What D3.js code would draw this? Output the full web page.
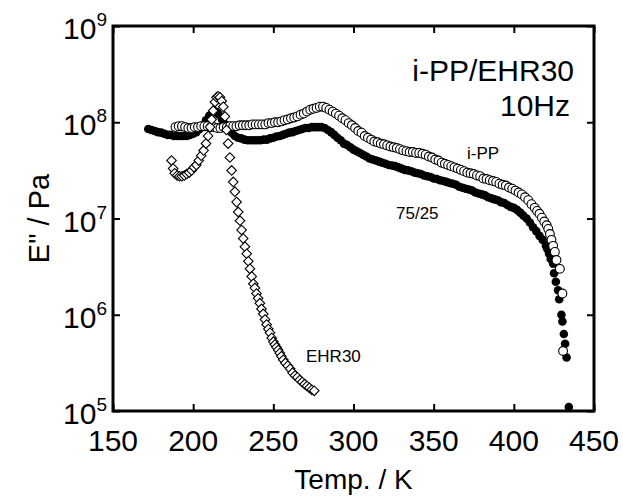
<!DOCTYPE html>
<html>
<head>
<meta charset="utf-8">
<script src="https://cdn.jsdelivr.net/npm/d3@7"></script>
<style>
  body { margin: 0; background: #fff; }
  text { font-family: "Liberation Sans", Arial, Helvetica, sans-serif; fill: #000; }
</style>
</head>
<body>
<svg id="chart" width="623" height="497"></svg>
<script>
// E'' vs temperature, 10 Hz

// [Temp / K, E'' / Pa]
const blend7525 = [
  [172, 8.5e7], [174, 8.3e7], [176, 8.1e7], [178, 7.9e7], [180, 7.8e7], [182, 7.6e7],
  [184, 7.4e7], [186, 7.4e7], [188, 7.2e7], [190, 7.2e7], [192, 7.2e7], [194, 7.2e7],
  [196, 7.2e7], [198, 7.4e7], [200, 7.6e7], [202, 7.9e7], [204, 8.5e7], [206, 9.3e7],
  [208, 1.05e8], [210, 1.17e8], [212, 1.26e8], [213, 1.29e8], [214, 1.29e8], [215, 1.26e8],
  [216, 1.2e8], [218, 1.07e8], [220, 9.5e7], [222, 8.5e7], [224, 7.8e7], [226, 7.2e7],
  [228, 6.9e7], [230, 6.8e7], [232, 6.6e7], [234, 6.5e7], [236, 6.5e7], [238, 6.5e7],
  [240, 6.5e7], [242, 6.5e7], [244, 6.6e7], [246, 6.6e7], [248, 6.8e7], [250, 6.9e7],
  [252, 7.1e7], [254, 7.2e7], [256, 7.4e7], [258, 7.6e7], [260, 7.8e7], [262, 7.9e7],
  [264, 8.1e7], [266, 8.3e7], [268, 8.5e7], [270, 8.7e7], [272, 8.7e7], [274, 8.9e7],
  [276, 8.9e7], [278, 8.9e7], [280, 8.9e7], [282, 8.7e7], [284, 8.3e7], [286, 7.9e7],
  [288, 7.4e7], [290, 6.9e7], [292, 6.5e7], [294, 6.0e7], [296, 5.8e7], [298, 5.5e7],
  [300, 5.2e7], [302, 5.0e7], [304, 4.8e7], [306, 4.6e7], [308, 4.4e7], [310, 4.2e7],
  [312, 4.1e7], [314, 4.0e7], [316, 3.9e7], [318, 3.8e7], [320, 3.7e7], [322, 3.6e7],
  [324, 3.55e7], [326, 3.5e7], [328, 3.4e7], [330, 3.3e7], [332, 3.2e7], [334, 3.16e7],
  [336, 3.1e7], [338, 3.0e7], [340, 2.95e7], [342, 2.9e7], [344, 2.8e7], [346, 2.75e7],
  [348, 2.7e7], [350, 2.6e7], [352, 2.57e7], [354, 2.5e7], [356, 2.45e7], [358, 2.4e7],
  [360, 2.34e7], [362, 2.3e7], [364, 2.24e7], [366, 2.14e7], [368, 2.09e7], [370, 2.04e7],
  [372, 2.0e7], [374, 1.95e7], [376, 1.86e7], [378, 1.82e7], [380, 1.78e7], [382, 1.74e7],
  [384, 1.66e7], [386, 1.62e7], [388, 1.58e7], [390, 1.55e7], [392, 1.48e7], [394, 1.45e7],
  [396, 1.38e7], [398, 1.32e7], [400, 1.29e7], [402, 1.23e7], [404, 1.15e7], [406, 1.07e7],
  [408, 1.0e7], [410, 9.1e6], [412, 8.1e6], [414, 7.4e6], [416, 6.6e6], [418, 6.0e6],
  [420, 5.2e6], [421, 4.8e6], [422, 4.3e6], [423, 3.8e6], [424.5, 3.4e6], [425.1, 2.7e6],
  [426.2, 2.2e6], [427.6, 1.8e6], [428.3, 1.45e6], [429.7, 1.0e6], [430.3, 8.5e5],
  [431.2, 6.3e5], [432, 5.0e5], [432.9, 3.6e5], [434.3, 1.1e5]
];

const iPP = [
  [189, 8.9e7], [191, 9.1e7], [193, 9.1e7], [195, 8.9e7], [197, 8.7e7], [199, 8.7e7],
  [201, 8.9e7], [203, 8.9e7], [205, 9.1e7], [207, 9.1e7], [209, 9.1e7], [211, 8.9e7],
  [213, 8.9e7], [215, 8.7e7], [217, 8.7e7], [219, 8.9e7], [221, 8.9e7], [223, 9.1e7],
  [225, 9.1e7], [227, 9.1e7], [229, 9.3e7], [231, 9.3e7], [233, 9.3e7], [235, 9.3e7],
  [237, 9.5e7], [239, 9.5e7], [241, 9.5e7], [243, 9.5e7], [245, 9.5e7], [247, 9.8e7],
  [249, 9.8e7], [251, 1.0e8], [253, 1.0e8], [255, 1.02e8], [257, 1.05e8], [259, 1.07e8],
  [261, 1.1e8], [263, 1.12e8], [265, 1.15e8], [267, 1.2e8], [269, 1.23e8], [271, 1.29e8],
  [273, 1.35e8], [275, 1.38e8], [277, 1.41e8], [279, 1.45e8], [281, 1.45e8], [283, 1.41e8],
  [285, 1.35e8], [287, 1.29e8], [289, 1.23e8], [291, 1.17e8], [293, 1.1e8], [295, 1.05e8],
  [297, 9.8e7], [299, 9.3e7], [301, 8.7e7], [303, 8.1e7], [305, 7.8e7], [307, 7.2e7],
  [309, 6.9e7], [311, 6.6e7], [313, 6.3e7], [315, 6.2e7], [317, 6.0e7], [319, 5.9e7],
  [321, 5.75e7], [323, 5.6e7], [325, 5.5e7], [327, 5.4e7], [329, 5.25e7], [331, 5.1e7],
  [333, 5.0e7], [335, 4.9e7], [337, 4.9e7], [339, 4.8e7], [341, 4.8e7], [343, 4.7e7],
  [345, 4.6e7], [347, 4.4e7], [349, 4.3e7], [351, 4.1e7], [353, 4.0e7], [355, 3.8e7],
  [357, 3.7e7], [359, 3.6e7], [361, 3.5e7], [363, 3.4e7], [365, 3.3e7], [367, 3.2e7],
  [369, 3.1e7], [371, 3.0e7], [373, 2.95e7], [375, 2.9e7], [377, 2.8e7], [379, 2.75e7],
  [381, 2.6e7], [383, 2.57e7], [385, 2.5e7], [387, 2.45e7], [389, 2.4e7], [391, 2.3e7],
  [393, 2.24e7], [395, 2.2e7], [397, 2.1e7], [399, 2.04e7], [401, 1.95e7], [403, 1.86e7],
  [405, 1.78e7], [407, 1.66e7], [409, 1.55e7], [411, 1.41e7], [413, 1.29e7], [414.5, 1.2e7],
  [416, 1.12e7], [417.5, 1.02e7], [419, 9.3e6], [420.5, 8.5e6], [421.5, 7.8e6], [422.5, 6.9e6],
  [423.5, 6.0e6], [424.5, 5.2e6], [425.6, 4.5e6], [426.6, 3.7e6], [428.7, 3.0e6],
  [430.3, 1.66e6], [430.7, 4.2e5]
];

const ehr30 = [
  [186.5, 4.0e7], [187.5, 3.3e7], [188.5, 2.95e7], [190, 2.8e7], [191.5, 2.75e7], [193, 2.75e7],
  [194.5, 2.8e7], [196, 2.9e7], [197.5, 3.0e7], [199, 3.16e7], [200.5, 3.4e7], [202, 3.6e7],
  [203.5, 4.0e7], [205, 4.5e7], [206.5, 5.1e7], [208, 6.0e7], [209.3, 7.2e7], [210.5, 8.9e7],
  [211.5, 1.07e8], [212.5, 1.32e8], [213.6, 1.62e8], [214.6, 1.82e8], [215.6, 1.86e8],
  [216.7, 1.82e8], [217.8, 1.66e8], [218.8, 1.45e8], [219.8, 1.15e8], [220.8, 8.3e7],
  [221.8, 6.0e7], [222.9, 4.3e7], [224, 3.16e7], [225, 2.4e7], [226, 1.9e7], [227.1, 1.48e7],
  [228.1, 1.17e7], [229.2, 9.5e6], [230.2, 7.6e6], [231.2, 6.2e6], [232.3, 5.1e6],
  [233.4, 4.3e6], [234.4, 3.6e6], [235.4, 3.0e6], [236.5, 2.5e6], [237.5, 2.1e6],
  [238.5, 1.9e6], [239.5, 1.66e6], [240.5, 1.48e6], [241.6, 1.32e6], [242.6, 1.15e6],
  [243.7, 1.02e6], [244.8, 8.9e5], [245.8, 7.9e5], [246.9, 7.1e5], [247.9, 6.5e5],
  [249, 5.75e5], [250, 5.25e5], [251, 4.9e5], [252, 4.6e5], [253, 4.3e5], [254, 4.0e5],
  [255, 3.7e5], [256.2, 3.4e5], [257.5, 3.16e5], [259, 2.95e5], [260.5, 2.75e5], [262, 2.5e5],
  [263.5, 2.34e5], [265, 2.24e5], [266.5, 2.1e5], [268, 2.0e5], [269.5, 1.9e5], [271, 1.82e5],
  [272.5, 1.74e5], [274, 1.66e5], [275.5, 1.62e5]
];

const xTicks = [150, 200, 250, 300, 350, 400, 450];
const yTicks = [1e5, 1e6, 1e7, 1e8, 1e9];

const svg = d3.select('#chart');

// Plot area
const margins = { left: 113, right: 594, top: 26, bottom: 411 };

const x = d3.scaleLinear().domain([150, 450]).range([margins.left, margins.right]);
const y = d3.scaleLog().domain([1e5, 1e9]).range([margins.bottom, margins.top]);

// Inward ticks on all four sides.
svg.append('g')
  .attr('transform', `translate(0,${margins.bottom})`)
  .call(d3.axisBottom(x).tickValues(xTicks).tickSize(-7).tickFormat(''))
  .call(g => g.select('.domain').remove());
svg.append('g')
  .attr('transform', `translate(0,${margins.top})`)
  .call(d3.axisTop(x).tickValues(xTicks).tickSize(-7).tickFormat(''))
  .call(g => g.select('.domain').remove());
svg.append('g')
  .attr('transform', `translate(${margins.left},0)`)
  .call(d3.axisLeft(y).tickValues(yTicks).tickSize(-7).tickFormat(''))
  .call(g => g.select('.domain').remove());
svg.append('g')
  .attr('transform', `translate(${margins.right},0)`)
  .call(d3.axisRight(y).tickValues(yTicks).tickSize(-7).tickFormat(''))
  .call(g => g.select('.domain').remove());
svg.selectAll('.tick line').attr('stroke', '#000').attr('stroke-width', 2);

// Frame
svg.append('rect')
  .attr('x', margins.left).attr('y', margins.top)
  .attr('width', margins.right - margins.left)
  .attr('height', margins.bottom - margins.top)
  .attr('fill', 'none').attr('stroke', '#000').attr('stroke-width', 3);

// Tick labels
svg.append('g').selectAll('text')
  .data(xTicks).join('text')
  .attr('x', d => x(d)).attr('y', margins.bottom + 40)
  .attr('text-anchor', 'middle')
  .attr('font-size', 30)
  .text(d => d);

const yLab = svg.append('g').selectAll('text')
  .data(yTicks).join('text')
  .attr('x', margins.left - 6).attr('y', d => y(d) + 13)
  .attr('text-anchor', 'end')
  .attr('font-size', 30);
yLab.append('tspan').text('10');
yLab.append('tspan')
  .attr('font-size', 19).attr('dy', -13)
  .text(d => Math.round(Math.log10(d)));

// Axis titles
svg.append('text')
  .attr('x', (margins.left + margins.right) / 2).attr('y', 489)
  .attr('text-anchor', 'middle').attr('font-size', 28)
  .text('Temp. / K');
svg.append('text')
  .attr('transform', `translate(49,${(margins.top + margins.bottom) / 2}) rotate(-90)`)
  .attr('text-anchor', 'middle').attr('font-size', 29)
  .text('E" / Pa');

// Markers: filled circles, open circles, open diamonds
const plot = svg.append('g');
plot.selectAll('.c7525').data(blend7525).join('circle')
  .attr('class', 'c7525')
  .attr('cx', d => x(d[0])).attr('cy', d => y(d[1]))
  .attr('r', 4.3).attr('fill', '#000');
plot.selectAll('.cipp').data(iPP).join('circle')
  .attr('class', 'cipp')
  .attr('cx', d => x(d[0])).attr('cy', d => y(d[1]))
  .attr('r', 4.4).attr('fill', '#fff').attr('stroke', '#000').attr('stroke-width', 1.1);
const diamond = d3.symbol().type(d3.symbolSquare).size(46);
plot.selectAll('.dehr').data(ehr30).join('path')
  .attr('class', 'dehr')
  .attr('d', diamond)
  .attr('transform', d => `translate(${x(d[0])},${y(d[1])}) rotate(45)`)
  .attr('fill', '#fff').attr('stroke', '#000').attr('stroke-width', 1.1);

// Annotations
svg.append('text').attr('x', 574).attr('y', 81)
  .attr('text-anchor', 'end').attr('font-size', 30).text('i-PP/EHR30');
svg.append('text').attr('x', 570).attr('y', 116)
  .attr('text-anchor', 'end').attr('font-size', 30).text('10Hz');
svg.append('text').attr('x', 467).attr('y', 159)
  .attr('font-size', 17).text('i-PP');
svg.append('text').attr('x', 396).attr('y', 219)
  .attr('font-size', 17).text('75/25');
svg.append('text').attr('x', 306).attr('y', 362)
  .attr('font-size', 17).text('EHR30');
</script>
</body>
</html>
